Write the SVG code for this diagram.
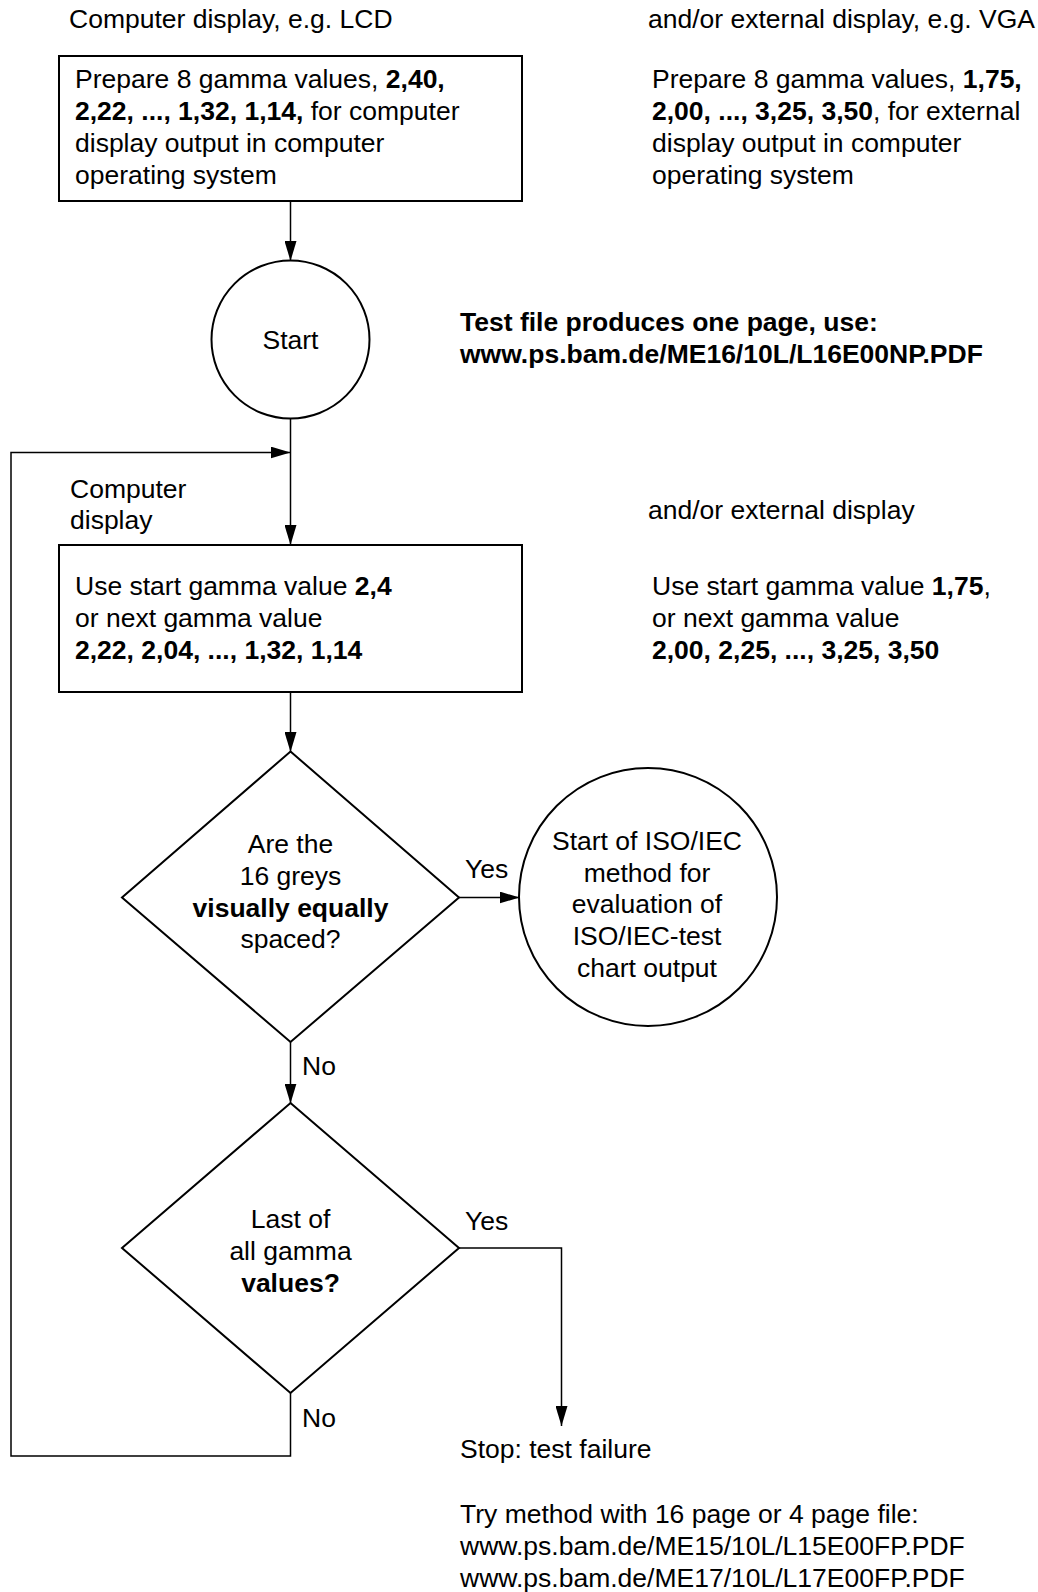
<svg xmlns="http://www.w3.org/2000/svg" width="1038" height="1592" viewBox="0 0 1038 1592">
<style>
text{font-family:"Liberation Sans",Arial,sans-serif;font-size:26.5px;fill:#000}
.b{font-weight:bold}
.c{text-anchor:middle}
.shape{fill:#fff;stroke:#000;stroke-width:2}
.conn{fill:none;stroke:#000;stroke-width:1.5}
</style>
<defs>
<marker id="arr" markerUnits="userSpaceOnUse" markerWidth="20" markerHeight="12" refX="20" refY="6" orient="auto" viewBox="0 0 20 12">
<path d="M0,0 L20,6 L0,12 z" fill="#000"/>
</marker>
</defs>
<rect width="1038" height="1592" fill="#fff"/>

<g id="connectors">
<path class="conn" d="M290.5,201 V261" marker-end="url(#arr)"/>
<path class="conn" d="M290.5,418.5 V545" marker-end="url(#arr)"/>
<path class="conn" d="M290.5,692 V752" marker-end="url(#arr)"/>
<path class="conn" d="M459,897.5 H519.5" marker-end="url(#arr)"/>
<path class="conn" d="M290.5,1042 V1103.5" marker-end="url(#arr)"/>
<path class="conn" d="M459,1248 H561.5 V1426" marker-end="url(#arr)"/>
<path class="conn" d="M290.5,1393 V1456 H11 V452.5 H290.5" marker-end="url(#arr)"/>
</g>

<g id="labels">
<text x="69" y="28">Computer display, e.g. LCD</text>
<text x="648" y="28">and/or external display, e.g. VGA</text>
<text x="652" y="88">Prepare 8 gamma values, <tspan class="b">1,75,</tspan></text>
<text x="652" y="120"><tspan class="b">2,00, ..., 3,25, 3,50</tspan>, for external</text>
<text x="652" y="152">display output in computer</text>
<text x="652" y="184">operating system</text>
<text x="460" y="331" class="b">Test file produces one page, use:</text>
<text x="460" y="363" class="b">www.ps.bam.de/ME16/10L/L16E00NP.PDF</text>
<text x="70" y="498">Computer</text>
<text x="70" y="529">display</text>
<text x="648" y="519">and/or external display</text>
<text x="652" y="595">Use start gamma value <tspan class="b">1,75</tspan>,</text>
<text x="652" y="627">or next gamma value</text>
<text x="652" y="659" class="b">2,00, 2,25, ..., 3,25, 3,50</text>
<text x="465" y="878">Yes</text>
<text x="302" y="1075">No</text>
<text x="465" y="1230">Yes</text>
<text x="302" y="1427">No</text>
<text x="460" y="1458">Stop: test failure</text>
<text x="460" y="1523">Try method with 16 page or 4 page file:</text>
<text x="460" y="1555">www.ps.bam.de/ME15/10L/L15E00FP.PDF</text>
<text x="460" y="1587">www.ps.bam.de/ME17/10L/L17E00FP.PDF</text>
</g>

<g id="prepare-box">
<rect class="shape" x="59" y="56" width="463" height="145"/>
<text x="75" y="88">Prepare 8 gamma values, <tspan class="b">2,40,</tspan></text>
<text x="75" y="120"><tspan class="b">2,22, ..., 1,32, 1,14,</tspan> for computer</text>
<text x="75" y="152">display output in computer</text>
<text x="75" y="184">operating system</text>
</g>

<g id="start">
<circle class="shape" cx="290.5" cy="339.5" r="79"/>
<text x="290.5" y="349" class="c">Start</text>
</g>

<g id="use-box">
<rect class="shape" x="59" y="545" width="463" height="147"/>
<text x="75" y="595">Use start gamma value <tspan class="b">2,4</tspan></text>
<text x="75" y="627">or next gamma value</text>
<text x="75" y="659" class="b">2,22, 2,04, ..., 1,32, 1,14</text>
</g>

<g id="decision-equal">
<polygon class="shape" points="290.5,751.5 459,897.5 290.5,1042 122,897.5"/>
<text x="290.5" y="853" class="c">Are the</text>
<text x="290.5" y="885" class="c">16 greys</text>
<text x="290.5" y="917" class="c b">visually equally</text>
<text x="290.5" y="948" class="c">spaced?</text>
</g>

<g id="iso-start">
<circle class="shape" cx="648" cy="897" r="129"/>
<text x="647" y="850" class="c">Start of ISO/IEC</text>
<text x="647" y="882" class="c">method for</text>
<text x="647" y="913" class="c">evaluation of</text>
<text x="647" y="945" class="c">ISO/IEC-test</text>
<text x="647" y="977" class="c">chart output</text>
</g>

<g id="decision-last">
<polygon class="shape" points="290.5,1103 459,1248 290.5,1393 122,1248"/>
<text x="290.5" y="1228" class="c">Last of</text>
<text x="290.5" y="1260" class="c">all gamma</text>
<text x="290.5" y="1292" class="c b">values?</text>
</g>
</svg>
